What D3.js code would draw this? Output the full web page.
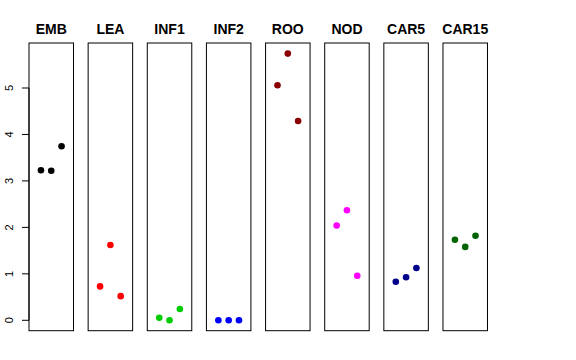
<!DOCTYPE html>
<html><head><meta charset="utf-8">
<script src="https://cdn.jsdelivr.net/npm/d3@7"></script>
<style>body{margin:0;background:#fff}svg{display:block}</style>
</head><body>
<svg id="c" width="576" height="360"></svg>
<script>
const categories = ["EMB","LEA","INF1","INF2","ROO","NOD","CAR5","CAR15"];
const colors = ["#000000","#FF0000","#00CD00","#0000FF","#8B0000","#FF00FF","#00008B","#006400"];
const rep1 = [3.23, 0.73, 0.056, 0.0, 5.06, 2.04, 0.83, 1.735];
const rep2 = [3.22, 1.62, 0.0, 0.0, 5.74, 2.37, 0.925, 1.58];
const rep3 = [3.745, 0.52, 0.243, 0.0, 4.29, 0.96, 1.126, 1.82];
const yTicks = [0,1,2,3,4,5];

const svg = d3.select("#c");
const font = "Liberation Sans, Arial, Helvetica, sans-serif";
const y = d3.scaleLinear().domain([0,5]).range([320.3,88]);
const yTop = 43, yBot = 330.7;
const panel = d3.scaleBand().domain(categories).range([29, 29 + 59.14*8]).paddingInner(0).paddingOuter(0);
const pw = 44.5;
const x = d3.scaleLinear().domain([-0.16, 4.16]).range([0, pw]);

categories.forEach((c,i) => {
  const g = svg.append("g").attr("transform", `translate(${panel(c)},0)`);
  g.append("rect").attr("x",0).attr("y",yTop).attr("width",pw).attr("height",yBot-yTop)
    .attr("fill","none").attr("stroke","#000").attr("stroke-width",1);
  g.append("text").attr("x",pw/2).attr("y",34).attr("text-anchor","middle")
    .attr("font-family",font).attr("font-weight","bold").attr("font-size",14).text(c);
  const vals = [rep1[i], rep2[i], rep3[i]];
  g.selectAll("circle").data(vals).join("circle")
    .attr("cx",(d,j)=>x(j+1)).attr("cy",d=>y(d)).attr("r",3.3).attr("fill",colors[i]);
});

// y axis
const ax = svg.append("g").attr("transform","translate(29,0)");
ax.append("line").attr("x1",0).attr("x2",0).attr("y1",y(0)).attr("y2",y(5)).attr("stroke","#000");
yTicks.forEach(t => {
  ax.append("line").attr("x1",-7).attr("x2",0).attr("y1",y(t)).attr("y2",y(t)).attr("stroke","#000");
  ax.append("text").attr("transform",`translate(-16,${y(t)}) rotate(-90)`)
    .attr("text-anchor","middle").attr("font-family",font).attr("font-size",11).text(t);
});
</script>
</body></html>
